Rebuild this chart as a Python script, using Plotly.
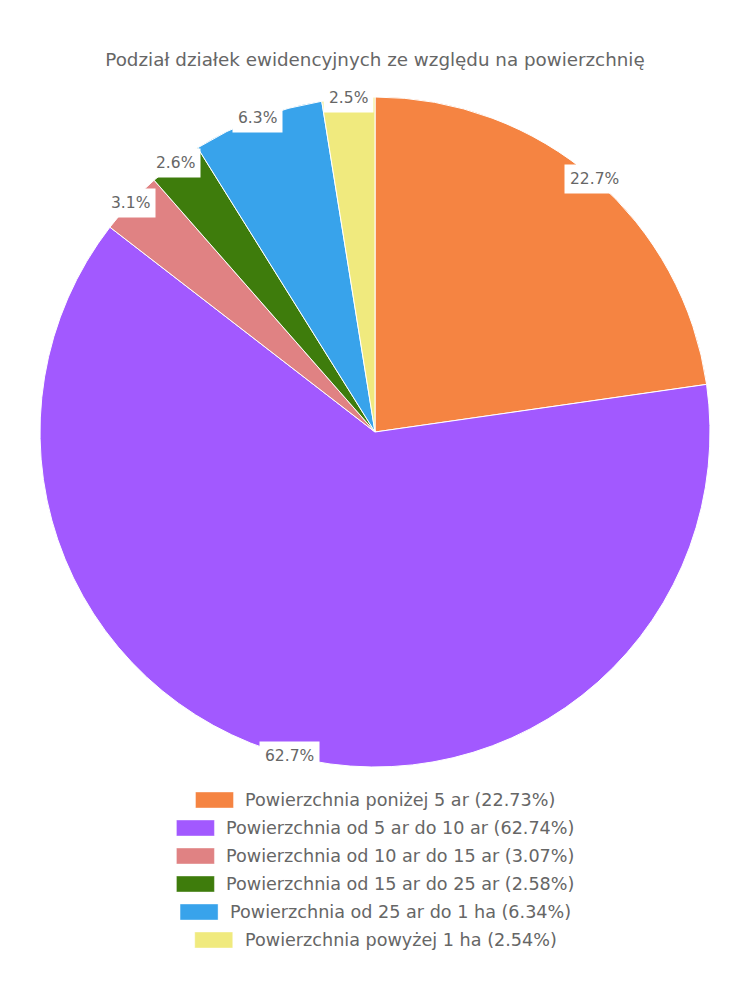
import math

import plotly.graph_objects as go

TITLE = "Podział działek ewidencyjnych ze względu na powierzchnię"

LABELS = [
    "Powierzchnia poniżej 5 ar",
    "Powierzchnia od 5 ar do 10 ar",
    "Powierzchnia od 10 ar do 15 ar",
    "Powierzchnia od 15 ar do 25 ar",
    "Powierzchnia od 25 ar do 1 ha",
    "Powierzchnia powyżej 1 ha",
]
VALUES = [22.73, 62.74, 3.07, 2.58, 6.34, 2.54]
COLORS = ["#F58442", "#A259FF", "#E08283", "#3E7C0C", "#38A3EB", "#F0EA7E"]

W, H = 750, 1000
FONT = "DejaVu Sans"
GRAY = "#666666"
FS_TITLE = 18.3
FS_LABEL = 15.5
FS_LEGEND = 17.6

# pie geometry in pixels of the figure (paper has zero margins;
# the page body adds its own 8px offset)
CX, CY, R = 367, 424, 335
MID_X = 367

# DejaVu Sans advance widths (units / 2048) for legend centring
CHAR_W = {
    " ": 651, "%": 1946, "(": 799, ")": 799, ".": 651, "P": 1235, "a": 1255,
    "c": 1126, "d": 1300, "e": 1260, "h": 1298, "i": 569, "j": 569, "n": 1298,
    "o": 1253, "p": 1300, "r": 842, "w": 1675, "y": 1212, "z": 1075, "ż": 1075,
}


def text_width(s, size):
    return sum(1303 if ch.isdigit() else CHAR_W.get(ch, 1200) for ch in s) / 2048 * size


fig = go.Figure(
    go.Pie(
        labels=LABELS,
        values=VALUES,
        sort=False,
        direction="clockwise",
        rotation=0,
        marker=dict(colors=COLORS, line=dict(color="white", width=1)),
        textinfo="none",
        hoverinfo="label+percent",
        showlegend=False,
        domain=dict(x=[(CX - R) / W, (CX + R) / W], y=[1 - (CY + R) / H, 1 - (CY - R) / H]),
    )
)

annotations = []
total = sum(VALUES)
cum = 0.0
for v in VALUES:
    theta = 2 * math.pi * (cum + v / 2) / total
    cum += v
    px = CX + R * math.sin(theta)
    py = CY - R * math.cos(theta)
    annotations.append(dict(
        x=px / W, y=1 - py / H, xref="paper", yref="paper",
        xanchor="center", yanchor="middle",
        text=f"{v / total * 100:.1f}%", showarrow=False,
        bgcolor="white", borderpad=5,
        font=dict(family=FONT, size=FS_LABEL, color=GRAY),
    ))

shapes = []
SW, SH, GAP = 38, 16, 10
LEG_TOP, LEG_STEP = 792, 28
for i, (lab, v, col) in enumerate(zip(LABELS, VALUES, COLORS)):
    txt = f"{lab} ({v:.2f}%)"
    tw = text_width(txt, FS_LEGEND)
    x0 = MID_X - (SW + GAP + tw) / 2
    yc = LEG_TOP + i * LEG_STEP
    shapes.append(dict(
        type="rect", xref="paper", yref="paper",
        x0=x0 / W, x1=(x0 + SW) / W, y0=1 - (yc + SH / 2) / H, y1=1 - (yc - SH / 2) / H,
        fillcolor=col, line=dict(width=1, color="rgba(255,255,255,0.4)"),
    ))
    annotations.append(dict(
        x=(x0 + SW + GAP) / W, y=1 - yc / H, xref="paper", yref="paper",
        xanchor="left", yanchor="middle", text=txt, showarrow=False,
        font=dict(family=FONT, size=FS_LEGEND, color=GRAY),
    ))

fig.update_layout(
    width=W, height=H,
    margin=dict(l=0, r=0, t=0, b=0),
    paper_bgcolor="white",
    title=dict(
        text=TITLE, x=MID_X / W, xanchor="center", y=1 - 52 / H, yanchor="middle",
        font=dict(family=FONT, size=FS_TITLE, color=GRAY),
    ),
    annotations=annotations,
    shapes=shapes,
)

fig.write_html("out.html")
